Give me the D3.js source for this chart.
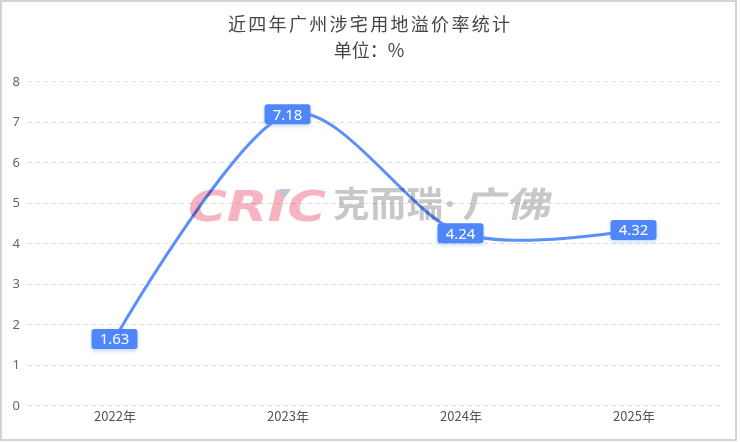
<!DOCTYPE html>
<html>
<head>
<meta charset="utf-8">
<script src="https://cdn.jsdelivr.net/npm/d3@7"></script>
<style>
html,body{margin:0;padding:0;background:#fff;}
svg{display:block;font-family:"Noto Sans","Noto Sans CJK SC",sans-serif;}
</style>
</head>
<body>
<svg id="chart" width="740" height="442"></svg>
<script>
const categories = ["2022年", "2023年", "2024年", "2025年"];
const values = [1.63, 7.18, 4.24, 4.32];
const yTicks = [0, 1, 2, 3, 4, 5, 6, 7, 8];
const titleLines = ["近四年广州涉宅用地溢价率统计", "单位：%"];

const W = 740, H = 442;
const svg = d3.select("#chart");

const defs = svg.append("defs");
const f = defs.append("filter").attr("id", "shadow").attr("x", "-30%").attr("y", "-50%").attr("width", "160%").attr("height", "220%");
f.append("feDropShadow").attr("dx", 0).attr("dy", 2).attr("stdDeviation", 2).attr("flood-color", "#5b8ff9").attr("flood-opacity", 0.35);

// border
svg.append("rect").attr("x", 1).attr("y", 1).attr("width", 735).attr("height", 439)
  .attr("fill", "#fff").attr("stroke", "#d4d4d4").attr("stroke-width", 2);

const x = d3.scalePoint().domain(categories).range([28, 720]).padding(0.5);
const y = d3.scaleLinear().domain([0, 8]).range([405, 81]);

// title
svg.append("g").selectAll("text").data(titleLines).join("text")
  .attr("x", 369).attr("y", (d, i) => 31 + i * 26)
  .attr("text-anchor", "middle").attr("font-size", 18).attr("fill", "#464646")
  .attr("font-family", "'Noto Sans CJK SC', sans-serif")
  .attr("textLength", (d, i) => i === 0 ? 282 : null)
  .attr("lengthAdjust", "spacing")
  .text(d => d);

// grid
svg.append("g").selectAll("line").data(yTicks).join("line")
  .attr("x1", 28).attr("x2", 722)
  .attr("y1", d => Math.round(y(d)) + 0.5).attr("y2", d => Math.round(y(d)) + 0.5)
  .attr("stroke", "#dedede").attr("stroke-width", 1).attr("stroke-dasharray", "4,4");

// y axis labels
const yAxis = d3.axisLeft(y).tickValues(yTicks).tickSize(0).tickPadding(0).tickFormat(d3.format("d"));
const yg = svg.append("g").attr("transform", "translate(20,0)").call(yAxis);
yg.select(".domain").remove();
yg.selectAll("text").attr("font-size", 13).attr("fill", "#666").attr("font-family", "'Noto Sans', sans-serif");

// x axis labels
const xAxis = d3.axisBottom(x).tickSize(0).tickPadding(0);
const xg = svg.append("g").attr("transform", "translate(0,412)").call(xAxis);
xg.select(".domain").remove();
xg.selectAll("text").attr("font-size", 13).attr("fill", "#555").attr("font-family", "'Noto Sans CJK SC', sans-serif");

// line
const line = d3.line().x((d, i) => x(categories[i])).y(d => y(d)).curve(d3.curveCardinal.tension(0.1));
svg.append("path").datum(values).attr("d", line)
  .attr("fill", "none").attr("stroke", "#5b8ff9").attr("stroke-width", 3).attr("stroke-linecap", "round");

// watermark
const wm = svg.append("g").style("mix-blend-mode", "multiply");
wm.append("text").attr("x", 188).attr("y", 221)
  .attr("font-family", "'DejaVu Sans', sans-serif").attr("font-weight", "bold").attr("font-style", "italic")
  .attr("font-size", 42).attr("fill", "#f6b4c2")
  .attr("textLength", 138).attr("lengthAdjust", "spacingAndGlyphs")
  .text("CRIC");
wm.append("path").attr("d", "M279,189 L291,189 L284,199 Z").attr("fill", "#b9c7d7");
wm.append("text").attr("x", 333).attr("y", 217)
  .attr("font-family", "'Noto Sans CJK SC', sans-serif").attr("font-weight", "bold")
  .attr("font-size", 35).attr("fill", "#c8c8c8")
  .attr("textLength", 110).attr("lengthAdjust", "spacingAndGlyphs")
  .text("克而瑞");
wm.append("text").attr("x", 445).attr("y", 217)
  .attr("font-family", "'Noto Sans', sans-serif").attr("font-weight", "bold")
  .attr("font-size", 35).attr("fill", "#c8c8c8")
  .text("·");
wm.append("text").attr("x", 462).attr("y", 217)
  .attr("transform", "translate(462,217) skewX(-12) translate(-462,-217)")
  .attr("font-family", "'Noto Sans CJK SC', sans-serif").attr("font-weight", "bold")
  .attr("font-size", 35).attr("fill", "#c8c8c8")
  .attr("textLength", 88).attr("lengthAdjust", "spacingAndGlyphs")
  .text("广佛");

// labels
const lg = svg.append("g").selectAll("g").data(values).join("g")
  .attr("transform", (d, i) => `translate(${x(categories[i])},${y(d)})`);
lg.append("rect").attr("x", -23).attr("y", -10).attr("width", 46).attr("height", 20).attr("rx", 3)
  .attr("fill", "#5087fb").attr("filter", "url(#shadow)");
lg.append("text").attr("text-anchor", "middle").attr("dy", "0.36em")
  .attr("font-size", 15).attr("fill", "#fff").attr("font-family", "'Noto Sans', sans-serif")
  .text(d => d.toFixed(2));
</script>
</body>
</html>
